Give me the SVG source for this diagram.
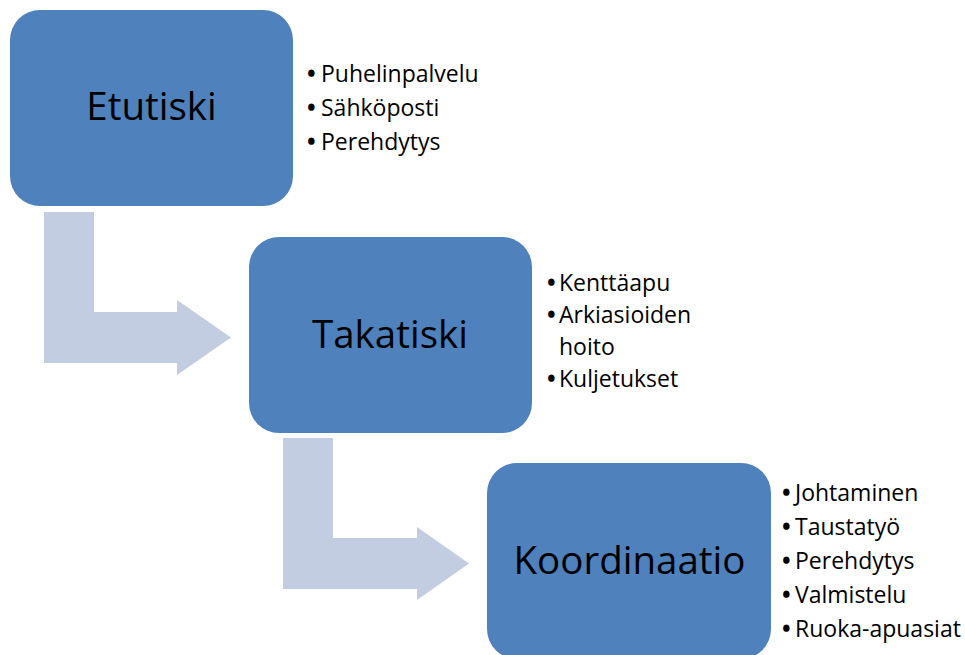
<svg xmlns="http://www.w3.org/2000/svg" width="965" height="655" viewBox="0 0 965 655">
<style>
.box{fill:#4F81BD}
.arr{fill:#C3CDE2}
.lbl{font-family:"Open Sans","Liberation Sans",sans-serif;font-size:38.5px;fill:#000;text-anchor:middle}
.lst{font-family:"Open Sans","Liberation Sans",sans-serif;font-size:23px;fill:#000}
.b{stroke:#000;stroke-width:1.6px}
</style>
<rect width="965" height="655" fill="#fff"/>
<g id="connectors">
<polygon class="arr" points="44,212 94,212 94,312 177,312 177,300 231,337.5 177,375 177,363 44,363"/>
<polygon class="arr" points="283,438 333,438 333,538 417,538 417,527 469,563.5 417,600 417,589 283,589"/>
</g>
<g id="etutiski">
<rect class="box" x="10" y="10" width="283" height="196" rx="30"/>
<text class="lbl" x="151.5" y="120">Etutiski</text>
</g>
<g id="etutiski-list">
<text class="lst"><tspan class="b" x="307" y="82">•</tspan><tspan x="321" y="82">Puhelinpalvelu</tspan></text>
<text class="lst"><tspan class="b" x="307" y="116">•</tspan><tspan x="321" y="116">Sähköposti</tspan></text>
<text class="lst"><tspan class="b" x="307" y="150">•</tspan><tspan x="321" y="150">Perehdytys</tspan></text>
</g>
<g id="takatiski">
<rect class="box" x="249" y="237" width="283" height="196" rx="30"/>
<text class="lbl" x="390" y="348">Takatiski</text>
</g>
<g id="takatiski-list">
<text class="lst"><tspan class="b" x="547" y="291">•</tspan><tspan x="559" y="291">Kenttäapu</tspan></text>
<text class="lst"><tspan class="b" x="547" y="323">•</tspan><tspan x="559" y="323">Arkiasioiden</tspan><tspan x="559" y="355">hoito</tspan></text>
<text class="lst"><tspan class="b" x="547" y="387">•</tspan><tspan x="559" y="387">Kuljetukset</tspan></text>
</g>
<g id="koordinaatio">
<rect class="box" x="487" y="463" width="284" height="196" rx="30"/>
<text class="lbl" x="629.5" y="574">Koordinaatio</text>
</g>
<g id="koordinaatio-list">
<text class="lst"><tspan class="b" x="782" y="501">•</tspan><tspan x="795" y="501">Johtaminen</tspan></text>
<text class="lst"><tspan class="b" x="782" y="535">•</tspan><tspan x="795" y="535">Taustatyö</tspan></text>
<text class="lst"><tspan class="b" x="782" y="569">•</tspan><tspan x="795" y="569">Perehdytys</tspan></text>
<text class="lst"><tspan class="b" x="782" y="603">•</tspan><tspan x="795" y="603">Valmistelu</tspan></text>
<text class="lst"><tspan class="b" x="782" y="637">•</tspan><tspan x="795" y="637">Ruoka-apuasiat</tspan></text>
</g>
</svg>
